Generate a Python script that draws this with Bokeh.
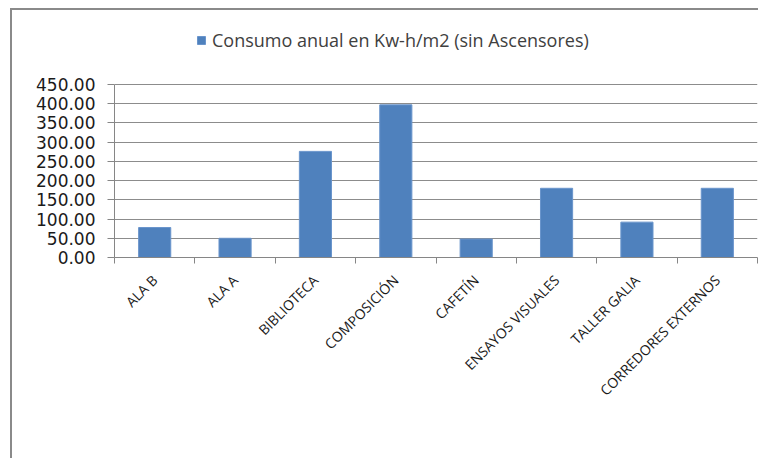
from bokeh.plotting import figure
from bokeh.models import (FactorRange, Range1d, LinearAxis, FixedTicker, NumeralTickFormatter,
                          Legend, LegendItem, CategoricalAxis)
from bokeh.embed import file_html
from bokeh.resources import INLINE
import math

categories = ["ALA B", "ALA A", "BIBLIOTECA", "COMPOSICIÓN", "CAFETÍN",
              "ENSAYOS VISUALES", "TALLER GALIA", "CORREDORES EXTERNOS"]
consumo = [78, 50, 276, 397, 48, 180, 92, 180]
y_ticks = [0, 50, 100, 150, 200, 250, 300, 350, 400, 450]
series_name = "Consumo anual en Kw-h/m2 (sin Ascensores)"

BAR = "#4F81BD"
GRID = "#8c8c8c"
AXIS = "#868686"
TEXT = "#1a1a1a"

# frame extends above the 450 gridline to leave room for the legend inside it
p = figure(width=748, height=450, output_backend="svg", toolbar_location=None,
           x_range=FactorRange(*categories), y_range=Range1d(0, 606),
           min_border_left=102, min_border_right=3, min_border_top=14, min_border_bottom=203,
           x_axis_location=None)
p.outline_line_color = None
p.background_fill_color = "white"
p.border_fill_color = "white"
p.styles = {"border-top": "2px solid #8a8a8a", "border-left": "2px solid #8a8a8a",
            "margin-top": "8px", "margin-left": "10px"}

r = p.vbar(x=categories, top=consumo, width=0.4, fill_color=BAR, line_color="#6a95cc", line_width=1)

# y axis
p.yaxis.ticker = FixedTicker(ticks=y_ticks)
p.yaxis.bounds = (y_ticks[0], y_ticks[-1])
p.yaxis.formatter = NumeralTickFormatter(format="0.00")
p.yaxis.axis_line_color = AXIS
p.yaxis.major_tick_line_color = AXIS
p.yaxis.major_tick_out = 7
p.yaxis.major_tick_in = 0
p.yaxis.minor_tick_line_color = None
p.yaxis.major_label_standoff = 12
p.yaxis.major_label_text_font = "DejaVu Sans"
p.yaxis.major_label_text_font_size = "17px"
p.yaxis.major_label_text_color = TEXT

p.ygrid.ticker = FixedTicker(ticks=y_ticks)
p.ygrid.grid_line_color = GRID
p.ygrid.grid_line_width = 1
p.xgrid.grid_line_color = None

# x axis: ticks between categories (synthetic coordinates 0..N on the factor range)
edge_axis = LinearAxis(ticker=FixedTicker(ticks=list(range(len(categories) + 1))),
                       major_label_text_font_size="1px", major_label_text_color=None,
                       major_label_standoff=0,
                       axis_line_color=AXIS, major_tick_line_color=AXIS,
                       major_tick_out=6, major_tick_in=0, minor_tick_line_color=None)
p.add_layout(edge_axis, "below")

cat_axis = CategoricalAxis(axis_line_color=None, major_tick_line_color=None,
                           major_tick_out=0, major_tick_in=0,
                           major_label_orientation=math.pi / 4,
                           major_label_standoff=14,
                           major_label_text_font="Open Sans",
                           major_label_text_font_size="14px",
                           major_label_text_color=TEXT)
p.add_layout(cat_axis, "below")

legend = Legend(items=[LegendItem(label=series_name, renderers=[r])],
                location=(82, 205), orientation="horizontal",
                label_text_font="Open Sans", label_text_font_size="18px",
                label_text_color="#404040", glyph_width=10, glyph_height=10,
                border_line_color=None, background_fill_alpha=0,
                label_standoff=6, padding=0, margin=0)
p.add_layout(legend, "center")

open("out.html", "w").write(file_html(p, INLINE))
